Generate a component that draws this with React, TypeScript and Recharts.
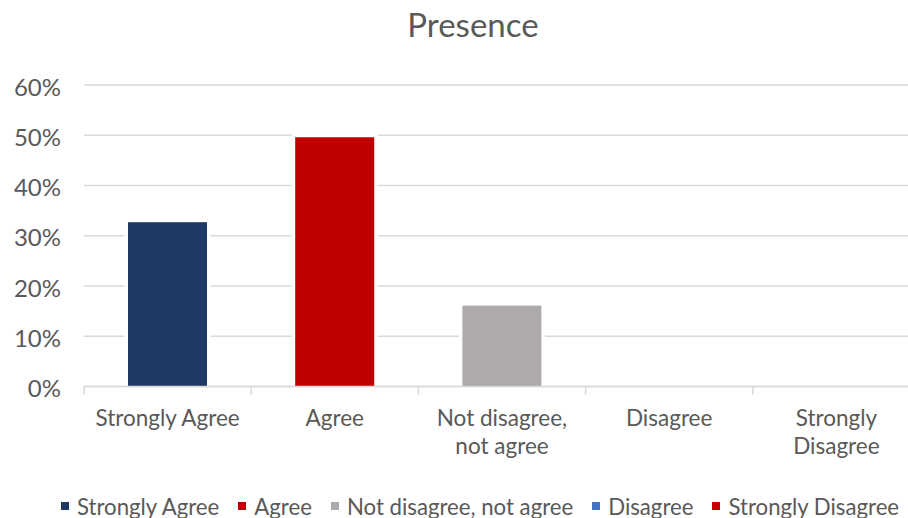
import { BarChart, Bar, XAxis, YAxis, CartesianGrid, Cell, Legend } from "recharts";

const categories = [
  "Strongly Agree",
  "Agree",
  "Not disagree, not agree",
  "Disagree",
  "Strongly Disagree",
];
const tickLines = [
  ["Strongly Agree"],
  ["Agree"],
  ["Not disagree,", "not agree"],
  ["Disagree"],
  ["Strongly", "Disagree"],
];
const shares = [0.327, 0.496, 0.161, 0, 0];
const colors = ["#203864", "#C00000", "#AEAAAA", "#4472C4", "#C00000"];
const yTicks = [0, 0.1, 0.2, 0.3, 0.4, 0.5, 0.6];

const data = categories.map((name, i) => ({ name, share: shares[i] }));

const FONT = "Lato, 'Open Sans', sans-serif";
const TEXT = "#595959";
const GRID = "#d9d9d9";

const CHART_W = 930;
const CHART_H = 518;
const Y_AXIS_W = 84;
const MARGIN_RIGHT = 10;
const BAND = (CHART_W - Y_AXIS_W - MARGIN_RIGHT) / categories.length;

// bar with a thin white outline so gridlines stop short of it
const OutlinedBar = (props: any) => {
  const { x, y, width, height, fill } = props;
  if (!height || height <= 0) return null;
  const pad = 3.5;
  return (
    <g>
      <rect x={x - pad} y={y - pad} width={width + pad * 2} height={height + pad} fill="#fff" />
      <rect x={x} y={y} width={width} height={height} fill={fill} />
    </g>
  );
};

const CategoryTick = (props: any) => {
  const { x, y, index } = props;
  const lines = tickLines[index] || [];
  const top = y - 8;
  return (
    <g>
      <line x1={x - BAND / 2} x2={x - BAND / 2} y1={top} y2={top + 8} stroke={GRID} strokeWidth={1.5} />
      {index === categories.length - 1 && (
        <line x1={x + BAND / 2} x2={x + BAND / 2} y1={top} y2={top + 8} stroke={GRID} strokeWidth={1.5} />
      )}
      <text x={x} y={y + 31} textAnchor="middle" fill={TEXT} fontSize={22.5} fontFamily={FONT}>
        {lines.map((line: string, i: number) => (
          <tspan key={i} x={x} dy={i === 0 ? 0 : 28}>
            {line}
          </tspan>
        ))}
      </text>
    </g>
  );
};

const PercentTick = (props: any) => {
  const { y, payload } = props;
  return (
    <text x={61} y={y + 2} dy="0.36em" textAnchor="end" fill={TEXT} fontSize={24} fontFamily={FONT}>
      {`${Math.round(payload.value * 100)}%`}
    </text>
  );
};

const LegendRow = () => (
  <div
    style={{
      display: "flex",
      alignItems: "center",
      height: 30,
      paddingTop: 6,
      paddingLeft: 61,
      fontFamily: FONT,
      fontSize: 22.2,
      color: TEXT,
      whiteSpace: "nowrap",
      boxSizing: "border-box",
    }}
  >
    {categories.map((name, i) => (
      <span key={name} style={{ display: "inline-flex", alignItems: "center", marginRight: 19 }}>
        <span style={{ width: 8, height: 8, background: colors[i], marginRight: 8 }} />
        {name}
      </span>
    ))}
  </div>
);

export default function App() {
  return (
    <div
      style={{
        position: "absolute",
        left: 0,
        top: 0,
        width: 908,
        height: 518,
        overflow: "hidden",
        background: "#fff",
      }}
    >
      <div
        style={{
          position: "absolute",
          left: 0,
          width: 946,
          top: 4,
          textAlign: "center",
          fontFamily: FONT,
          fontSize: 33,
          color: TEXT,
          zIndex: 1,
        }}
      >
        Presence
      </div>
      <BarChart
        width={CHART_W}
        height={CHART_H}
        data={data}
        margin={{ top: 85, right: MARGIN_RIGHT, bottom: 0, left: 0 }}
        barSize={79}
      >
        <CartesianGrid vertical={false} stroke={GRID} strokeWidth={1.5} />
        <XAxis
          dataKey="name"
          interval={0}
          height={101.5}
          axisLine={{ stroke: GRID, strokeWidth: 1.5 }}
          tickLine={false}
          tick={<CategoryTick />}
        />
        <YAxis
          width={Y_AXIS_W}
          domain={[0, 0.6]}
          ticks={yTicks}
          axisLine={false}
          tickLine={false}
          tick={<PercentTick />}
        />
        <Legend verticalAlign="bottom" align="left" content={<LegendRow />} />
        <Bar dataKey="share" isAnimationActive={false} shape={<OutlinedBar />}>
          {data.map((d, i) => (
            <Cell key={d.name} fill={colors[i]} />
          ))}
        </Bar>
      </BarChart>
    </div>
  );
}
